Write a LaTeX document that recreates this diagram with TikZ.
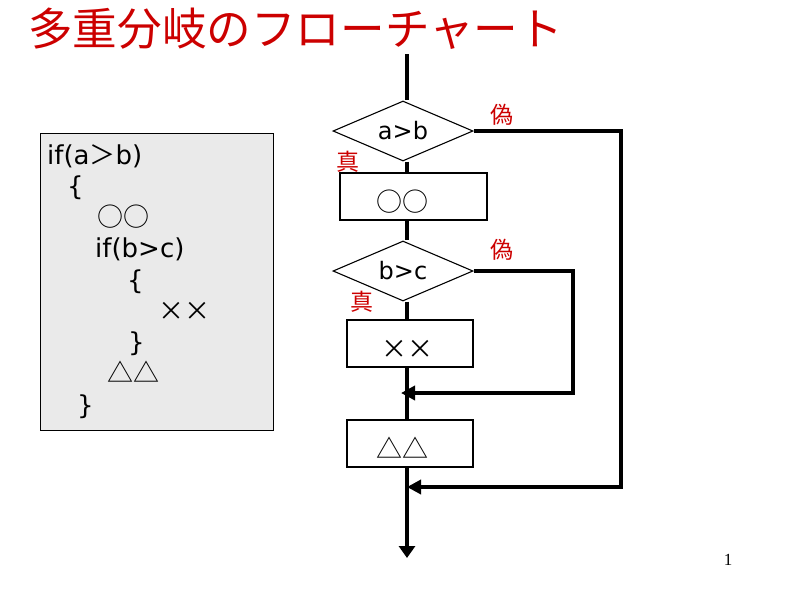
\documentclass[tikz,border=0pt]{standalone}
\usepackage{fontspec}
\setmainfont{DejaVu Sans}
\newfontfamily\jp{Noto Sans CJK JP}
\newfontfamily\serifnum{Liberation Serif}
\usetikzlibrary{shapes.geometric,arrows.meta}
\definecolor{tred}{RGB}{204,0,0}
\definecolor{boxgray}{RGB}{234,234,234}
\begin{document}
\begin{tikzpicture}[x=1pt,y=-1pt,
  flow/.style={line width=3.5pt},
  tipl/.style={-{Triangle[length=14pt,width=14pt]}},
  dia/.style={diamond,draw,line width=1.1pt,aspect=2.33,minimum width=140pt,minimum height=60pt,inner sep=0pt,font=\fontsize{24}{24}\selectfont},
  proc/.style={rectangle,draw,line width=1.1pt,inner sep=0pt,minimum height=47pt},
  sym/.style={inner sep=0pt,font=\jp\fontsize{26}{26}\selectfont},
  lab/.style={inner sep=0pt,text=tred,font=\jp\fontsize{23}{23}\selectfont},
  code/.style={anchor=base west,inner sep=0pt,font=\fontsize{26}{26}\selectfont},
  codesym/.style={anchor=base west,inner sep=0pt,font=\jp\fontsize{26}{26}\selectfont}
]
\useasboundingbox (0,0) rectangle (800,600);

% title
\node[anchor=base west,inner sep=0pt,text=tred,font=\jp\fontsize{44.6}{44.6}\selectfont] (title) at (28,45) {多重分岐のフローチャート};

% code box
\node[draw,fill=boxgray,line width=0.8pt,minimum width=233pt,minimum height=297pt,inner sep=0pt] (codebox) at (156.5,281.5) {};
\node[code] (c1) at (47,164) {if(a{\jp ＞}b)};
\node[code] (c2) at (67,195.3) {\{};
\node[codesym] (c3) at (97,226.5) {○○};
\node[code] (c4) at (95,257.8) {if(b>c)};
\node[code] (c5) at (127,289) {\{};
\node[codesym] (c6) at (158,320.3) {××};
\node[code] (c7) at (128,351.5) {\}};
\node[codesym] (c8) at (107,382.8) {△△};
\node[code] (c9) at (77,414) {\}};

% flowchart
\coordinate (start) at (407,54);
\node[dia] (d1) at (403,131) {a>b};
\node[proc,minimum width=147pt] (b1) at (413.5,196.5) {};
\node[sym] (t1) at (402,202) {○○};
\node[dia] (d2) at (403,271) {b>c};
\node[proc,minimum width=126pt] (b2) at (410,343.5) {};
\node[sym] (t2) at (407.5,349) {××};
\node[proc,minimum width=126pt] (b3) at (410,443.5) {};
\node[sym] (t3) at (402,448) {△△};
\coordinate (join1) at (401,393);
\coordinate (join2) at (407,487);
\coordinate (r1) at (573,393);
\coordinate (r2) at (621,487);
\coordinate (fin) at (407,558);

\draw[flow] (start) -- (start |- d1.north);
\draw[flow] (start |- d1.south) -- (start |- b1.north);
\draw[flow] (start |- b1.south) -- (start |- d2.north);
\draw[flow] (start |- d2.south) -- (start |- b2.north);
\draw[flow] (start |- b2.south) -- (start |- b3.north);
\draw[flow,-{Triangle[length=12pt,width=16pt]}] (start |- b3.south) -- (fin);
\draw[flow,tipl] (d1.east) -| (r2) -- (join2);
\draw[flow,tipl] (d2.east) -| (r1) -- (join1);

% labels
\node[lab] (f1) at (502,115) {偽};
\node[lab] (f2) at (502,250) {偽};
\node[lab] (s1) at (348,162) {真};
\node[lab] (s2) at (362,302) {真};

% page number
\node[inner sep=0pt,font=\serifnum\fontsize{17}{17}\selectfont] (pn) at (728,560) {1};
\end{tikzpicture}
\end{document}
